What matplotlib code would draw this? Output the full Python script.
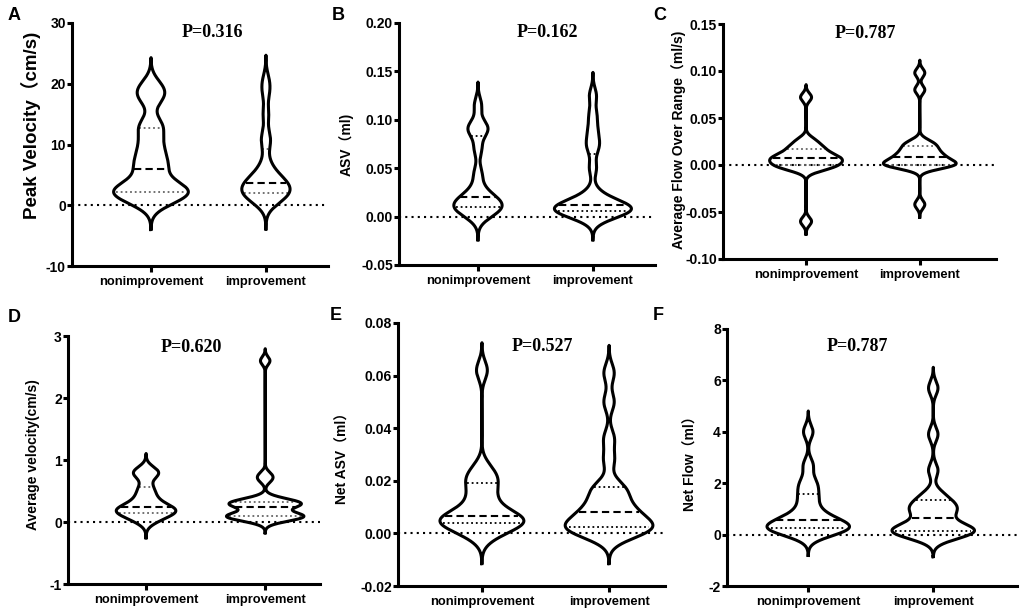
import numpy as np
import matplotlib
matplotlib.use("Agg")
import matplotlib.pyplot as plt

groups = ["nonimprovement", "improvement"]
letters = ["A", "B", "C", "D", "E", "F"]
p_texts = ["P=0.316", "P=0.162", "P=0.787", "P=0.620", "P=0.527", "P=0.787"]
y_labels = ["Peak Velocity（cm/s)", "ASV（ml)", "Average Flow Over Range（ml/s)",
            "Average velocity(cm/s)", "Net ASV（ml）", "Net Flow（ml）"]

# values (estimated per subject)
peak_non = [0.5, 1.0, 1.6, 2.1, 2.3, 2.6, 3.0, 3.6, 5.5, 6.5, 7.5, 9.0, 10.5, 12.5, 13.5, 17.5, 18.5, 19.8]
peak_imp = [0.3, 0.8, 1.3, 1.7, 2.0, 2.2, 2.5, 2.8, 3.2, 3.5, 3.9, 4.3, 4.8, 5.5, 7.0, 10.0, 11.5, 15.0, 18.5, 20.5]
asv_non = [0.0, 0.004, 0.007, 0.009, 0.011, 0.013, 0.016, 0.019, 0.021, 0.03, 0.045, 0.07, 0.088, 0.09, 0.095, 0.115]
asv_imp = [0.0, 0.002, 0.004, 0.005, 0.006, 0.007, 0.008, 0.009, 0.010, 0.011, 0.012, 0.014, 0.018, 0.025,
           0.05, 0.07, 0.078, 0.09, 0.105, 0.125]
flow_non = [-0.06, -0.005, -0.003, -0.001, 0.0, 0.002, 0.004, 0.006, 0.007, 0.008, 0.010, 0.012, 0.016,
            0.018, 0.022, 0.027, 0.072]
flow_imp = [-0.042, -0.002, -0.001, 0.0, 0.0, 0.001, 0.002, 0.004, 0.007, 0.009, 0.010, 0.013, 0.016,
            0.019, 0.022, 0.025, 0.080, 0.098]
avgv_non = [0.0, 0.05, 0.09, 0.12, 0.15, 0.16, 0.18, 0.2, 0.21, 0.23, 0.26, 0.3, 0.36, 0.42, 0.5,
            0.58, 0.74, 0.78, 0.81, 0.85]
avgv_imp = [0.02, 0.05, 0.07, 0.08, 0.09, 0.10, 0.11, 0.12, 0.13, 0.24, 0.25, 0.27, 0.29, 0.30, 0.31, 0.32,
            0.34, 0.38, 0.68, 0.76, 2.6]
netasv_non = [-0.001, 0.001, 0.003, 0.004, 0.004, 0.005, 0.006, 0.006, 0.007, 0.010, 0.013, 0.016, 0.02,
              0.021, 0.025, 0.062]
netasv_imp = [-0.001, 0.0, 0.001, 0.002, 0.002, 0.003, 0.003, 0.004, 0.006, 0.008, 0.008, 0.010, 0.012,
              0.015, 0.017, 0.018, 0.028, 0.036, 0.050, 0.061]
netflow_non = [0.0, 0.1, 0.15, 0.2, 0.25, 0.3, 0.35, 0.4, 0.5, 0.6, 0.7, 0.9, 1.2, 1.5, 1.8, 2.1, 2.7, 4.0]
netflow_imp = [-0.05, 0.0, 0.05, 0.1, 0.12, 0.15, 0.2, 0.25, 0.35, 0.5, 0.8, 0.9, 1.0, 1.1, 1.2, 1.4, 1.6,
               2.5, 3.9, 5.7]

data = [(peak_non, peak_imp), (asv_non, asv_imp), (flow_non, flow_imp),
        (avgv_non, avgv_imp), (netasv_non, netasv_imp), (netflow_non, netflow_imp)]

yticks = [[-10, 0, 10, 20, 30], [-0.05, 0, 0.05, 0.10, 0.15, 0.20], [-0.10, -0.05, 0, 0.05, 0.10, 0.15],
          [-1, 0, 1, 2, 3], [-0.02, 0, 0.02, 0.04, 0.06, 0.08], [-2, 0, 2, 4, 6, 8]]
ytick_fmt = ["{:.0f}", "{:.2f}", "{:.2f}", "{:.0f}", "{:.2f}", "{:.0f}"]

# layout (pixels) and styling per panel
W, H = 1021, 614
boxes = [(72, 23, 328, 266), (399, 23, 655, 265), (723, 24, 996, 259),
         (68, 336, 320, 584), (398, 323, 665, 586), (727, 329, 1017, 586)]
xlims = [(-0.687, 1.54), (-0.687, 1.54), (-0.73, 1.67), (-0.655, 1.46), (-0.66, 1.44), (-0.65, 1.67)]
bws = [(1.5, 1.4), (0.008, 0.008), (0.0045, 0.0045), (0.085, 0.065), (0.0035, 0.0035), (0.27, 0.27)]
vwidths = [(0.65, 0.42), (0.42, 0.67), (0.64, 0.64), (0.50, 0.65), (0.66, 0.69), (0.66, 0.66)]
q_colors = ["#666666", "black", "#666666", "#666666", "black", "black"]
label_xy = [(-0.12, 0.58), (-0.176, 0.5), (-0.135, 0.506), (-0.111, 0.52), (-0.18, 0.5), (-0.103, 0.49)]
label_size = [13.5, 10, 10, 10, 10, 10]
p_xy = [(0.55, 0.96), (0.58, 0.96), (0.52, 0.96), (0.49, 0.955), (0.54, 0.91), (0.45, 0.93)]
letter_px = [(14, 15), (338, 15), (660, 15), (14, 317), (336, 315), (658, 315)]

sans = ["Liberation Sans", "Noto Sans CJK SC", "DejaVu Sans"]


def kde(x, coords, bw):
    x = np.asarray(x)
    z = (coords[:, None] - x[None, :]) / bw
    return np.exp(-0.5 * z ** 2).sum(axis=1) / (len(x) * bw * np.sqrt(2 * np.pi))


fig = plt.figure(figsize=(W / 100, H / 100), dpi=100)

for i in range(6):
    x0, y0, x1, y1 = boxes[i]
    ax = fig.add_axes([x0 / W, (H - y1) / H, (x1 - x0) / W, (y1 - y0) / H])
    ax.axhline(0, color="black", ls=(0, (1, 2)), lw=1.5, zorder=1)

    for j, vals in enumerate(data[i]):
        vals = np.asarray(vals, dtype=float)
        bw = bws[i][j]
        ys = np.linspace(vals.min() - 3 * bw, vals.max() + 3 * bw, 600)
        dens = kde(vals, ys, bw)
        half = dens / dens.max() * vwidths[i][j] / 2
        xs = np.concatenate([j - half, (j + half)[::-1], [j - half[0]]])
        yy = np.concatenate([ys, ys[::-1], [ys[0]]])
        ax.plot(xs, yy, color="black", lw=2.2, solid_joinstyle="round", zorder=3)

        q1, med, q3 = np.percentile(vals, [25, 50, 75], method="weibull")
        for q, ls, col, lw in [(q1, (0, (1, 1.6)), q_colors[i], 1.3),
                               (q3, (0, (1, 1.6)), q_colors[i], 1.3),
                               (med, (0, (3.5, 2)), "black", 1.5)]:
            w = np.interp(q, ys, half) * 0.93
            ax.plot([j - w, j + w], [q, q], color=col, ls=ls, lw=lw, zorder=2)

    ax.set_xlim(*xlims[i])
    ax.set_ylim(yticks[i][0], yticks[i][-1])
    ax.set_xticks([0, 1])
    ax.set_xticklabels(groups, fontfamily=sans, fontweight="bold", fontsize=9.3)
    ax.set_yticks(yticks[i])
    ax.set_yticklabels([ytick_fmt[i].format(t) for t in yticks[i]], fontfamily=sans,
                       fontweight="bold", fontsize=10)
    for s in ["top", "right"]:
        ax.spines[s].set_visible(False)
    for s in ["left", "bottom"]:
        ax.spines[s].set_linewidth(2.2)
    ax.tick_params(axis="y", width=2.2, length=3.5, pad=1)
    ax.tick_params(axis="x", width=2.2, length=4.5, pad=3)
    ax.set_ylabel(y_labels[i], fontfamily=sans, fontweight="bold", fontsize=label_size[i])
    ax.yaxis.set_label_coords(*label_xy[i])
    ax.text(p_xy[i][0], p_xy[i][1], p_texts[i], transform=ax.transAxes, ha="center", va="center",
            fontfamily="Liberation Serif", fontweight="bold", fontsize=13)
    fig.text(letter_px[i][0] / W, 1 - letter_px[i][1] / H, letters[i], ha="center", va="center",
             fontfamily=sans, fontweight="bold", fontsize=13)

fig.savefig("out.png", dpi=100)
